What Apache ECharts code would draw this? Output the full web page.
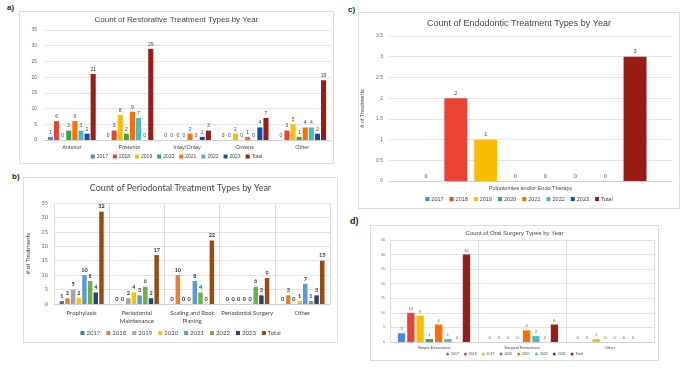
<!DOCTYPE html>
<html><head><meta charset="utf-8">
<script src="https://cdn.jsdelivr.net/npm/echarts@6/dist/echarts.min.js"></script>
<style>
body{margin:0;background:#fff;width:685px;height:371px;position:relative;overflow:hidden;font-family:"Liberation Sans",Arial,sans-serif;}
.box{position:absolute;border:1px solid #dcdcdc;box-sizing:border-box;background:#fff;}
.lbl{position:absolute;font-weight:bold;font-size:8px;color:#222;}
</style></head><body>
<span class="lbl" style="left:7px;top:3px;">a)</span>
<span class="lbl" style="left:12px;top:172px;">b)</span>
<span class="lbl" style="left:348px;top:5px;">c)</span>
<span class="lbl" style="left:350px;top:216px;font-size:9px;">d)</span>
<div id="ca" class="box" style="left:19px;top:11px;width:315px;height:153px;"></div>
<div id="cb" class="box" style="left:23px;top:177px;width:315px;height:166px;"></div>
<div id="cc" class="box" style="left:358px;top:12px;width:322px;height:197px;"></div>
<div id="cd" class="box" style="left:370px;top:225px;width:289px;height:136px;"></div>
<script>
const years = ['2017','2018','2019','2020','2021','2022','2023','Total'];

// a) Restorative
const restorativeCats = ['Anterior','Posterior','Inlay/Onlay','Crowns','Other'];
const restAnterior = [1,6,0,3,6,3,2,21];
const restPosterior = [0,3,8,2,9,7,0,29];
const restInlay = [0,0,0,0,2,0,1,3];
const restCrowns = [0,0,2,0,1,0,4,7];
const restOther = [0,3,5,1,4,4,2,19];

// b) Periodontal
const perioCats = ['Prophylaxis','Periodontal\nMaintenance','Scaling and Root\nPlaning','Periodontal Surgery','Other'];
const perioProphylaxis = [1,2,5,2,10,8,4,32];
const perioMaintenance = [0,0,2,4,3,6,2,17];
const perioScaling = [0,10,0,0,8,4,0,22];
const perioSurgery = [0,0,0,0,0,6,3,9];
const perioOther = [0,3,0,1,7,1,3,15];

// c) Endodontic
const endoCats = ['Pulpotomies and/or Endo Therapy'];
const endoPulp = [0,2,1,0,0,0,0,3];

// d) Oral surgery
const surgCats = ['Simple Extractions','Surgical Extractions','Other'];
const surgSimple = [3,10,9,1,6,1,0,30];
const surgSurgical = [0,0,0,0,4,2,0,6];
const surgOther = [0,0,1,0,0,0,0,null];

const googleColors = ['#4285F4','#EA4335','#FBBC04','#34A853','#FF6D01','#46BDC6','#1A47B8','#9B1B15'];
const excelColors = ['#4472C4','#ED7D31','#A5A5A5','#FFC000','#5B9BD5','#70AD47','#264478','#9E480E'];

function make(id, cfg){
  const chart = echarts.init(document.getElementById(id), null, {renderer:'canvas'});
  const rows = cfg.rows;
  const series = years.map((y,i)=>({
    name:y, type:'bar',
    data: rows.map(r=>r[i]),
    itemStyle:{color:cfg.colors[i]},
    barGap:cfg.barGap, barCategoryGap:cfg.catGap,
    label:{show:true, position:'top', distance:2, fontSize:cfg.labelSize, color:cfg.labelColor, fontWeight:cfg.labelWeight||'normal', fontFamily:cfg.font},
    animation:false
  }));
  const grid = Object.assign({containLabel:false, outerBoundsMode:'none'}, cfg.grid);
  chart.setOption({
    animation:false,
    textStyle:{fontFamily:cfg.font},
    title:{text:cfg.title, left:'center', top:cfg.titleTop, padding:0, textStyle:{fontSize:cfg.titleSize, fontWeight:'normal', color:'#444', fontFamily:cfg.font}},
    legend:{data:years, bottom:cfg.legendBottom, left:'center', padding:0, icon:cfg.legendIcon||'rect', itemWidth:cfg.iconSize, itemHeight:cfg.iconSize, itemGap:cfg.legendGap, textStyle:{fontSize:cfg.legendSize, color:'#444', fontFamily:cfg.font, padding:[0,0,0,-3]}},
    grid:grid,
    xAxis:{type:'category', data:cfg.cats,
      axisLine:{show:true, lineStyle:{color:'#d0d0d0'}}, axisTick:{show:false},
      axisLabel:{fontSize:cfg.axisSize, color:'#444', margin:cfg.xMargin, lineHeight:cfg.axisSize+2, interval:0},
      splitLine:{show:!!cfg.vsplit, lineStyle:{color:'#dcdcdc'}}},
    yAxis:{type:'value', min:0, max:cfg.ymax, interval:cfg.yint,
      name:'# of Treatments', nameLocation:'middle', nameGap:cfg.nameGap, nameRotate:90,
      nameTextStyle:{fontSize:cfg.nameSize, color:'#444'},
      axisLine:{show:false}, axisTick:{show:false},
      axisLabel:{fontSize:cfg.axisSize-0.5, color:'#666', margin:cfg.yMargin},
      splitLine:{lineStyle:{color:'#e3e3e3'}}},
    series
  });
}

make('ca',{
  title:'Count of Restorative Treatment Types by Year', titleTop:4, titleSize:8,
  font:'"Liberation Sans", Arial, sans-serif',
  cats:restorativeCats, rows:[restAnterior,restPosterior,restInlay,restCrowns,restOther],
  colors:googleColors, barGap:'20%', catGap:'17%',
  labelSize:5, labelColor:'#444',
  legendBottom:4, iconSize:4, legendGap:5, legendSize:5,
  grid:{left:23, right:2, top:18, bottom:23},
  axisSize:5.5, xMargin:4, yMargin:6, ymax:35, yint:5, nameGap:13, nameSize:5.5
});
make('cb',{
  title:'Count of Periodontal Treatment Types by Year', titleTop:6, titleSize:9,
  font:'Lato, "Open Sans", sans-serif',
  cats:perioCats, rows:[perioProphylaxis,perioMaintenance,perioScaling,perioSurgery,perioOther],
  colors:excelColors, barGap:'27%', catGap:'20%',
  labelSize:5.5, labelColor:'#333', labelWeight:'bold',
  legendBottom:6, iconSize:4, legendGap:6, legendSize:6,
  grid:{left:30, right:7, top:25, bottom:38},
  axisSize:6, xMargin:5, yMargin:6, ymax:35, yint:5, nameGap:15, nameSize:6, vsplit:true
});
make('cc',{
  title:'Count of Endodontic Treatment Types by Year', titleTop:6, titleSize:9,
  font:'"Liberation Sans", Arial, sans-serif',
  cats:endoCats, rows:[endoPulp],
  colors:googleColors, barGap:'30%', catGap:'18%',
  labelSize:5.5, labelColor:'#444',
  legendBottom:6, iconSize:4, legendGap:6, legendSize:5.5,
  grid:{left:30, right:7, top:23, bottom:27},
  axisSize:5.5, xMargin:4, yMargin:6, ymax:3.5, yint:0.5, nameGap:17, nameSize:5.5
});
make('cd',{
  title:'Count of Oral Surgery Types by Year', titleTop:4, titleSize:6,
  font:'"Liberation Sans", Arial, sans-serif',
  cats:surgCats, rows:[surgSimple,surgSurgical,surgOther],
  colors:googleColors, barGap:'27%', catGap:'18%',
  labelSize:4, labelColor:'#555',
  legendBottom:4, legendIcon:'circle', iconSize:3, legendGap:5, legendSize:3.5,
  grid:{left:19, right:4, top:14, bottom:18},
  axisSize:4, xMargin:3, yMargin:5, ymax:35, yint:5, nameGap:13, nameSize:4, vsplit:true
});
</script>
</body></html>
